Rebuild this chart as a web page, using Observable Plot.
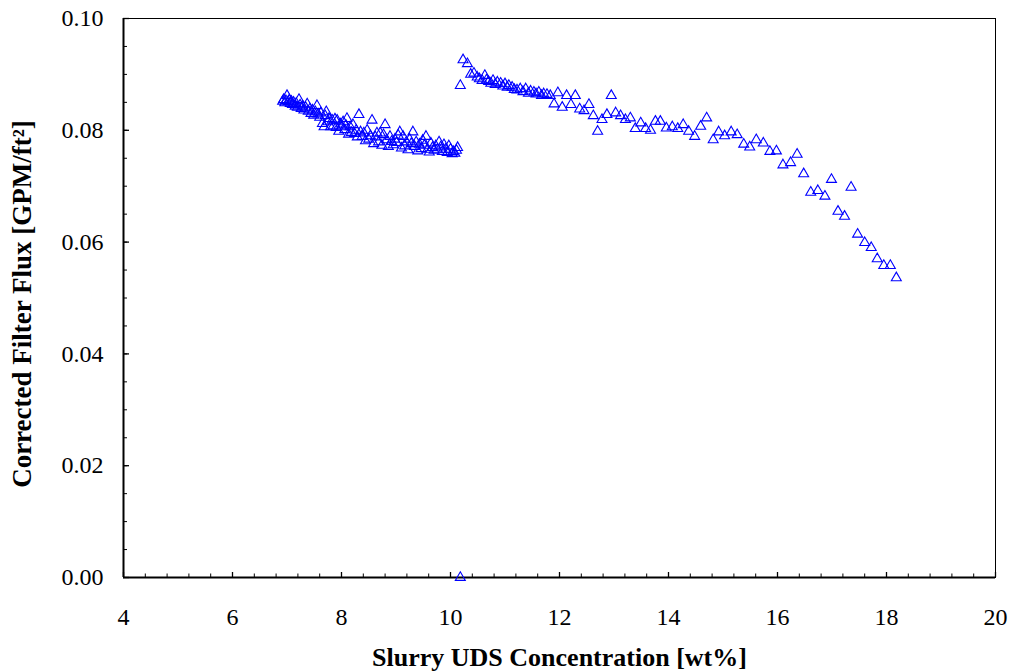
<!DOCTYPE html>
<html>
<head>
<meta charset="utf-8">
<script src="https://cdn.jsdelivr.net/npm/d3@7"></script>
<script src="https://cdn.jsdelivr.net/npm/@observablehq/plot@0.6"></script>
<style>
  html, body { margin: 0; padding: 0; background: #fff; }
  #chart svg { display: block; }
</style>
</head>
<body>
<div id="chart"></div>
<script>
// Run 1 (lower concentration batch)
const run1Conc = [6.92,6.94,6.96,6.98,7.00,7.02,7.04,7.06,7.08,7.10,7.12,7.15,7.17,7.19,7.22,7.24,7.26,7.29,7.31,7.34,7.37,7.39,7.42,7.44,7.47,7.49,7.52,7.55,7.57,7.60,7.62,7.65,7.68,7.70,7.72,7.75,7.77,7.80,7.83,7.85,7.88,7.90,7.92,7.95,7.98,8.00,8.03,8.06,8.08,8.10,8.13,8.16,8.18,8.21,8.24,8.27,8.29,8.32,8.35,8.38,8.41,8.44,8.47,8.50,8.53,8.56,8.59,8.62,8.65,8.68,8.71,8.74,8.77,8.80,8.83,8.86,8.89,8.92,8.95,8.98,9.01,9.04,9.07,9.10,9.13,9.16,9.19,9.22,9.25,9.28,9.31,9.34,9.37,9.40,9.43,9.46,9.49,9.52,9.55,9.58,9.61,9.64,9.67,9.70,9.73,9.76,9.79,9.82,9.85,9.88,9.91,9.94,9.97,10.00,10.03,10.05,10.08,10.11,10.13];
const run1Flux = [0.0852,0.0855,0.0849,0.0853,0.0862,0.0851,0.0854,0.0848,0.0852,0.0846,0.0850,0.0843,0.0848,0.0841,0.0855,0.0845,0.0839,0.0843,0.0836,0.0841,0.0847,0.0834,0.0838,0.0830,0.0836,0.0827,0.0833,0.0844,0.0829,0.0823,0.0831,0.0812,0.0806,0.0826,0.0833,0.0815,0.0821,0.0806,0.0818,0.0808,0.0820,0.0805,0.0818,0.0798,0.0811,0.0806,0.0815,0.0801,0.0809,0.0821,0.0793,0.0806,0.0796,0.0810,0.0794,0.0800,0.0788,0.0828,0.0797,0.0789,0.0795,0.0781,0.0800,0.0784,0.0790,0.0818,0.0776,0.0788,0.0795,0.0779,0.0795,0.0773,0.0792,0.0810,0.0783,0.0771,0.0789,0.0780,0.0774,0.0784,0.0778,0.0791,0.0797,0.0768,0.0789,0.0772,0.0779,0.0765,0.0784,0.0776,0.0797,0.0771,0.0779,0.0763,0.0775,0.0767,0.0782,0.0773,0.0789,0.0766,0.0761,0.0777,0.0769,0.0764,0.0772,0.0766,0.0779,0.0770,0.0762,0.0774,0.0766,0.0760,0.0772,0.0766,0.0758,0.0762,0.0759,0.0764,0.0769];

// Run 2 (higher concentration batch)
const run2Conc = [10.18,10.18,10.23,10.31,10.37,10.43,10.49,10.53,10.58,10.63,10.66,10.70,10.74,10.78,10.82,10.86,10.92,10.96,11.00,11.04,11.07,11.13,11.17,11.22,11.28,11.33,11.38,11.43,11.47,11.53,11.57,11.62,11.67,11.71,11.77,11.83,11.90,11.97,12.05,12.13,12.21,12.29,12.37,12.45,12.54,12.62,12.70,12.78,12.87,12.95,13.03,13.12,13.21,13.30,13.39,13.49,13.58,13.67,13.76,13.85,13.96,14.07,14.17,14.27,14.37,14.48,14.59,14.70,14.82,14.92,15.03,15.15,15.26,15.38,15.49,15.61,15.74,15.86,15.98,16.10,16.24,16.36,16.48,16.61,16.74,16.87,16.99,17.11,17.23,17.35,17.47,17.60,17.72,17.83,17.95,18.07,18.18];
const run2Flux = [0.0880,0.0000,0.0926,0.0919,0.0900,0.0902,0.0895,0.0892,0.0889,0.0898,0.0890,0.0887,0.0884,0.0889,0.0882,0.0886,0.0884,0.0879,0.0883,0.0877,0.0880,0.0877,0.0873,0.0872,0.0874,0.0869,0.0874,0.0866,0.0870,0.0868,0.0865,0.0868,0.0862,0.0865,0.0864,0.0862,0.0847,0.0867,0.0841,0.0862,0.0846,0.0862,0.0838,0.0835,0.0846,0.0826,0.0798,0.0819,0.0828,0.0862,0.0831,0.0826,0.0819,0.0822,0.0803,0.0813,0.0803,0.0800,0.0816,0.0816,0.0804,0.0806,0.0803,0.0810,0.0798,0.0789,0.0807,0.0822,0.0783,0.0797,0.0790,0.0797,0.0792,0.0775,0.0770,0.0783,0.0777,0.0762,0.0763,0.0738,0.0742,0.0757,0.0722,0.0689,0.0692,0.0682,0.0712,0.0655,0.0646,0.0698,0.0614,0.0599,0.0590,0.0570,0.0558,0.0558,0.0536];

// Axis ticks
const xMajorTicks = [4, 6, 8, 10, 12, 14, 16, 18, 20];
const xMinorTicks = d3.range(0, 41).map(i => 4 + i * 0.4);
const yMajorTicks = [0, 0.02, 0.04, 0.06, 0.08, 0.10];
const yMinorTicks = d3.range(0, 21).map(i => i * 0.005);

const xTitle = "Slurry UDS Concentration [wt%]";
const yTitle = "Corrected Filter Flux [GPM/ft²]";

const points = [
  ...run1Conc.map((c, i) => ({conc: c, flux: run1Flux[i]})),
  ...run2Conc.map((c, i) => ({conc: c, flux: run2Flux[i]}))
];

const chart = Plot.plot({
  width: 1011,
  height: 671,
  marginLeft: 123,
  marginRight: 16,
  marginTop: 18,
  marginBottom: 94,
  style: {fontFamily: "'Liberation Serif', 'Times New Roman', serif", fontSize: "24px", color: "#000", background: "#fff"},
  x: {domain: [4, 20]},
  y: {domain: [0, 0.1]},
  marks: [
    Plot.frame({stroke: "#000", strokeWidth: 1}),
    // minor/major ticks (inward)
    Plot.ruleX(xMinorTicks, {x: d => d, y1: 0, y2: 0, insetBottom: 3.5, stroke: "#000", strokeWidth: 1}),
    Plot.ruleX(xMajorTicks, {x: d => d, y1: 0, y2: 0, insetBottom: 5, stroke: "#000", strokeWidth: 1.3}),
    Plot.ruleY(yMinorTicks, {y: d => d, x1: 4, x2: 4, insetRight: -4, stroke: "#000", strokeWidth: 1}),
    Plot.ruleY(yMajorTicks, {y: d => d, x1: 4, x2: 4, insetRight: -6, stroke: "#000", strokeWidth: 1.3}),
    Plot.ruleX([4], {stroke: "#000", strokeWidth: 2}),
    Plot.ruleY([0], {stroke: "#000", strokeWidth: 2}),
    Plot.axisX(xMajorTicks, {tickSize: 0, tickPadding: 30, label: null, tickFormat: d => d3.format("d")(d), fontSize: 24}),
    Plot.axisY(yMajorTicks, {tickSize: 0, tickPadding: 20, label: null, tickFormat: d => d3.format(".2f")(d), fontSize: 24}),
    Plot.dot(points, {x: "conc", y: "flux", symbol: "triangle", r: 3.7, stroke: "#0000ff", fill: "none", strokeWidth: 1.1, clip: false}),
    Plot.text([xTitle], {frameAnchor: "bottom", dy: 80, lineAnchor: "middle", textAnchor: "middle", fontWeight: "bold", fontSize: 26, text: d => d}),
    Plot.text([yTitle], {frameAnchor: "left", dx: -101, dy: 6, rotate: -90, lineAnchor: "middle", textAnchor: "middle", fontWeight: "bold", fontSize: 27, text: d => d})
  ]
});

document.getElementById("chart").appendChild(chart);
</script>
</body>
</html>
